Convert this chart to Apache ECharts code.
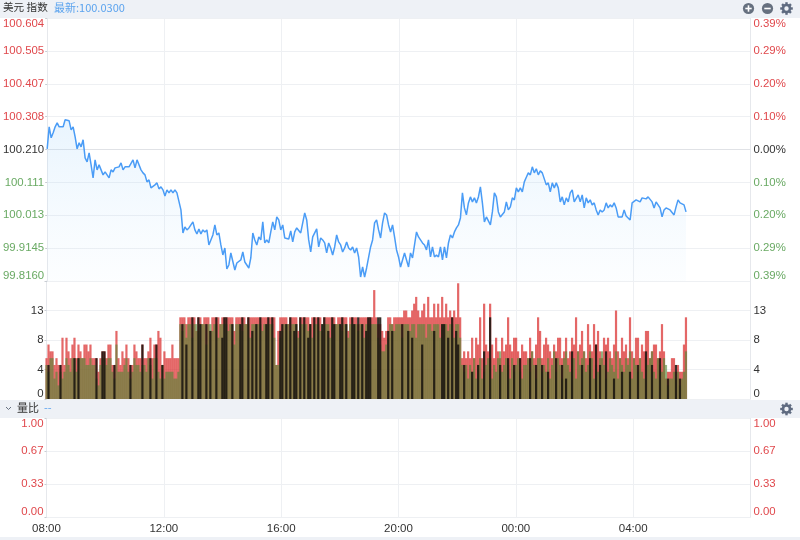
<!DOCTYPE html>
<html><head><meta charset="utf-8">
<style>html,body{margin:0;padding:0;background:#fff}#c{width:800px;height:540px}</style>
<script src="https://cdn.jsdelivr.net/npm/echarts@6/dist/echarts.min.js"></script>
</head><body><div id="c"></div>
<script>
const prevClose = 100.21;
const lastMinute = 1308;
const timeLabels = ['08:00','12:00','16:00','20:00','00:00','04:00',''];
const priceTicks = ['99.8160','99.9145','100.013','100.111','100.210','100.308','100.407','100.505','100.604'];
const pctTicks = ['0.39%','0.29%','0.20%','0.10%','0.00%','0.10%','0.20%','0.29%','0.39%'];
const volTicks = ['0','4','8','13',''];
const ratioTicks = ['0.00','0.33','0.67','1.00'];
const prices = [
100.212,100.278,100.245,100.260,100.278,100.290,100.278,100.278,100.278,100.299,100.299,100.296,100.269,100.278,100.248,100.212,100.230,100.218,100.239,100.185,100.173,100.200,100.164,100.125,100.179,100.149,100.164,100.149,100.134,100.143,100.140,100.125,100.149,100.143,100.155,100.152,100.158,100.170,100.149,100.158,100.158,100.158,100.161,100.179,100.155,100.179,100.179,100.149,100.140,100.134,100.113,100.119,100.095,100.095,100.104,100.110,100.092,100.098,100.089,100.071,100.089,100.080,100.089,100.080,100.089,100.080,100.080,100.029,99.960,99.978,99.969,99.975,99.984,99.993,99.969,99.957,99.972,99.957,99.969,
99.963,99.969,99.924,99.939,99.954,99.984,99.954,99.960,99.924,99.894,99.915,99.852,99.864,99.900,99.903,99.849,99.870,99.873,99.879,99.903,99.873,99.864,99.855,99.885,99.960,99.939,99.924,99.948,99.939,99.993,99.930,99.939,99.930,99.963,99.993,99.969,100.008,99.999,99.969,99.984,99.945,99.948,99.942,99.966,99.933,99.963,99.975,99.978,99.960,99.990,100.020,99.999,99.939,99.903,99.948,99.945,99.972,99.918,99.945,99.939,99.930,99.900,99.930,99.915,99.894,99.918,99.954,99.933,99.924,99.903,99.915,99.933,99.915,99.909,99.918,99.900,99.915,99.888,99.828,
99.858,99.828,99.855,99.858,99.918,99.939,99.990,99.999,99.969,99.945,99.990,100.020,100.014,99.984,99.963,99.984,99.948,99.909,99.888,99.858,99.858,99.900,99.879,99.858,99.900,99.885,99.924,99.963,99.948,99.945,99.930,99.924,99.909,99.939,99.888,99.918,99.888,99.894,99.888,99.918,99.879,99.918,99.885,99.930,99.954,99.945,99.963,99.975,99.984,100.005,100.080,100.035,100.014,100.050,100.068,100.053,100.065,100.050,100.068,100.098,100.050,99.993,100.008,100.005,99.984,100.023,100.080,100.068,100.023,100.008,100.005,100.023,100.053,100.029,100.038,100.065,100.059,100.095,100.083,100.095,100.083,100.113,
100.127,100.140,100.134,100.158,100.140,100.152,100.134,100.146,100.140,100.137,100.104,100.110,100.083,100.110,100.095,100.110,100.095,100.053,100.068,100.044,100.065,100.053,100.080,100.089,100.053,100.053,100.074,100.053,100.074,100.035,100.065,100.050,100.059,100.044,100.050,100.029,100.014,100.029,100.023,100.029,100.050,100.035,100.044,100.038,100.050,100.035,100.008,100.011,100.008,100.029,100.011,100.008,99.999,100.050,100.053,100.059,100.062,100.053,100.065,100.062,100.062,100.068,100.068,100.053,100.035,100.053,100.050,100.035,100.008,100.029,100.035,100.035,100.029,100.029,100.014,100.038,100.059,100.050,100.050,100.044,100.023];
const volRed = [
6,8,7,7,5,6,5,5,9,5,9,7,6,8,9,6,8,7,6,8,8,7,8,6,6,6,4,6,7,7,6,8,8,5,5,10,6,5,7,6,8,6,5,5,8,7,6,6,8,6,6,7,9,6,8,8,10,9,5,7,6,6,6,8,6,6,6,
12,12,12,11,12,12,12,12,10,12,12,11,12,12,12,10,12,12,12,12,11,12,12,12,12,12,12,10,12,12,12,12,12,11,12,12,12,12,12,12,12,12,12,12,12,12,12,12,5,10,12,12,12,12,11,12,12,12,12,10,12,12,12,12,12,11,12,12,12,12,12,10,12,12,12,12,12,12,11,12,12,12,12,12,10,12,12,12,12,11,12,12,12,12,12,12,12,
16,12,11,11,10,9,10,12,12,11,12,12,12,12,12,13,13,12,12,13,14,15,13,12,13,14,12,15,12,12,14,12,14,12,15,12,14,12,13,12,13,12,17,
12,6,7,6,7,6,9,6,9,8,12,6,14,8,7,14,8,6,9,7,6,9,7,8,12,8,7,9,9,7,6,8,7,
7,6,9,7,6,8,12,10,6,8,9,8,7,6,8,7,9,9,6,7,9,6,7,9,8,12,7,8,10,7,6,11,8,7,11,8,10,7,6,9,8,9,7,6,8,13,7,6,9,7,8,6,12,7,6,9,9,6,8,7,10,10,6,7,8,8,6,7,11,7,3,4,4,6,6,4,5,4,4,8,12];
const volGreen = [
5,4,6,6,3,4,2,4,3,4,6,5,4,6,6,4,6,6,6,6,5,5,6,5,5,3,2,5,6,6,5,6,6,4,3,8,4,4,4,5,6,4,3,4,6,5,5,4,5,5,4,6,5,3,6,6,4,3,5,3,4,4,4,4,3,3,4,
11,10,11,9,11,11,9,11,11,10,11,11,11,8,11,11,10,11,11,9,11,11,11,11,10,11,11,8,11,11,11,10,11,11,11,9,11,11,11,11,11,10,11,11,11,11,11,9,5,5,9,10,11,11,11,10,11,11,11,9,11,11,11,11,10,11,9,11,11,11,10,11,11,11,11,9,11,11,11,11,11,10,11,11,9,11,11,11,11,10,11,11,9,11,11,11,11,
11,11,9,8,7,7,8,9,11,11,10,11,11,11,9,11,11,11,10,11,11,9,11,11,11,11,9,11,11,10,11,11,11,9,11,11,11,10,11,11,9,11,11,
9,5,4,5,3,5,4,6,3,5,6,3,4,5,6,6,3,5,4,6,7,4,5,6,5,3,6,4,5,6,4,3,5,
5,6,4,7,5,3,6,6,4,5,4,6,3,5,7,4,6,5,3,6,7,5,4,6,6,3,7,5,6,7,4,5,7,6,3,5,4,6,7,5,3,4,6,5,4,7,3,6,5,4,6,5,7,3,6,5,4,6,4,3,6,5,6,7,4,3,6,5,4,6,5,2,3,3,4,3,4,2,3,4,7];
const volBlack = [
0,5,0,0,0,0,0,5,0,0,0,0,0,0,6,0,6,0,0,0,0,0,0,0,0,6,0,0,7,7,0,0,0,0,5,0,0,0,0,0,0,0,5,0,0,0,0,0,8,0,0,0,6,0,0,8,0,0,5,0,0,0,0,0,0,0,0,
0,11,0,8,0,0,12,0,0,12,11,0,0,11,0,10,0,0,12,0,0,9,12,12,0,0,11,0,0,0,11,12,0,0,12,0,10,0,11,0,12,0,0,11,12,0,12,0,0,0,10,11,0,11,0,12,0,10,11,0,12,0,12,0,9,11,0,12,0,12,0,11,12,0,10,0,12,11,0,0,11,12,0,11,0,0,12,11,0,12,0,11,0,10,12,12,0,
0,0,12,12,0,0,0,10,0,10,0,0,0,0,11,0,0,10,0,9,0,0,0,0,8,0,0,0,0,0,10,0,0,0,11,11,0,9,0,12,0,10,8,
0,0,5,0,0,0,4,0,0,5,0,0,7,0,0,12,0,0,0,0,5,0,0,0,6,0,0,5,0,0,6,0,0,
0,0,6,0,0,5,0,0,5,0,0,4,0,0,0,6,0,0,5,0,3,0,0,7,0,0,0,0,5,0,0,0,6,0,0,8,0,5,0,0,7,0,0,0,3,0,0,0,4,0,0,0,4,0,0,0,5,0,0,0,7,0,0,5,0,0,0,6,0,0,0,3,0,0,0,5,0,3,0,0,0];

const RED='#e0484c', GREEN='#6aaa64', DARK='#333333';
const step = lastMinute / (prices.length - 1);
const pts = (arr, f) => arr.map((v, i) => [i * step, f ? f(v) : v]);
const priceStep = 0.0985, volStep = 13 / 3, ratioStep = 1 / 3;
const idx = (v, s) => Math.round(v / s);

const xBase = (gridIndex, showLabel) => ({
  type:'value', gridIndex, min:0, max:1440, interval:240,
  axisLine:{show:showLabel, lineStyle:{color:'#eef0f3'}},
  axisTick:{show:false},
  splitLine:{show:true, lineStyle:{color:'#eef0f3', width:1}},
  axisLabel:{show:showLabel, color:'#333', fontSize:11.5, fontFamily:'Liberation Sans', margin:6,
    formatter:v => timeLabels[idx(v,240)]}
});
const yBase = (gridIndex, position, min, max, interval, formatter, color, showSplit) => ({
  type:'value', gridIndex, position, min, max, interval,
  axisLine:{show:true, onZero:false, lineStyle:{color:'#e6e8ec'}},
  axisTick:{show:position==='left', length:2, lineStyle:{color:'#c8ccd2'}},
  splitLine:{show:showSplit, lineStyle:{color:'#eef0f3', width:1}},
  axisLabel:{formatter, color, fontSize:11.4, fontFamily:'Liberation Sans', margin:3, inside:false,
    verticalAlignMinLabel:'bottom', verticalAlignMaxLabel:'top',
    align: position==='left' ? 'right' : 'left'}
});
const priceColor = v => { const i = idx(v, priceStep); return i>0?RED:i<0?GREEN:DARK; };

const HDR='#eef1f6', ICON='#66707f', CJK='"Noto Sans CJK SC"';
const gear = (cx, cy) => {
  const els = [{type:'ring', z:20, shape:{cx, cy, r:4.8, r0:2.2}, style:{fill:'#5f6b80'}}];
  for (let i = 0; i < 8; i++) {
    els.push({type:'rect', z:20, x:cx, y:cy, rotation:i*Math.PI/4,
      shape:{x:-1.2, y:-6.3, width:2.4, height:2.4}, style:{fill:'#5f6b80'}});
  }
  return els;
};
const roundBtn = (cx, cy, plus) => {
  const els = [{type:'circle', z:20, shape:{cx, cy, r:5.6}, style:{fill:ICON}},
    {type:'rect', z:21, shape:{x:cx-3.2, y:cy-0.8, width:6.4, height:1.6}, style:{fill:'#fff'}}];
  if (plus) els.push({type:'rect', z:21, shape:{x:cx-0.8, y:cy-3.2, width:1.6, height:6.4}, style:{fill:'#fff'}});
  return els;
};
const graphic = [
  {type:'rect', z:10, shape:{x:0,y:0,width:800,height:18}, style:{fill:HDR}},
  {type:'rect', z:10, shape:{x:0,y:400,width:800,height:18}, style:{fill:HDR}},
  {type:'rect', z:10, shape:{x:0,y:537,width:800,height:3}, style:{fill:HDR}},
  {type:'text', z:20, x:3, y:2, style:{text:'美元 指数', fill:'#333', font:'10.6px '+CJK}},
  {type:'text', z:20, x:54, y:2, style:{text:'最新:100.0300', fill:'#5ba3ee', font:'11px '+CJK}},
  {type:'polyline', z:20, shape:{points:[[6,407],[8.5,409.5],[11,407]]}, style:{stroke:'#66707f', lineWidth:1, fill:'none'}},
  {type:'text', z:20, x:17, y:402, style:{text:'量比', fill:'#333', font:'11px '+CJK}},
  {type:'text', z:20, x:44, y:402, style:{text:'--', fill:'#5ba3ee', font:'11px '+CJK}},
  ...roundBtn(748.5, 8.5, true), ...roundBtn(767.5, 8.5, false), ...gear(786.5, 8.5), ...gear(786.5, 409)
];
const barSeries = (name, data, color, z, barWidth) => ({
  name, type:'bar', xAxisIndex:1, yAxisIndex:2, data, barWidth, barGap:'-100%', z,
  itemStyle:{color}, silent:true, animation:false
});
const grids = [
  {left:46.5, right:49.5, top:18, height:263},
  {left:46.5, right:49.5, top:281, height:118},
  {left:46.5, right:49.5, top:418, height:99}
];
const option = {
  animation:false, backgroundColor:'#fff', graphic, grid:grids,
  xAxis:[xBase(0,false), xBase(1,false), xBase(2,true)],
  yAxis:[
    yBase(0,'left',-4*priceStep,4*priceStep,priceStep,v=>priceTicks[idx(v,priceStep)+4],priceColor,true),
    yBase(0,'right',-4*priceStep,4*priceStep,priceStep,v=>pctTicks[idx(v,priceStep)+4],priceColor,false),
    yBase(1,'left',0,4*volStep,volStep,v=>volTicks[idx(v,volStep)],DARK,true),
    yBase(1,'right',0,4*volStep,volStep,v=>volTicks[idx(v,volStep)],DARK,false),
    yBase(2,'left',0,1,ratioStep,v=>ratioTicks[idx(v,ratioStep)],v=>v===0?DARK:RED,true),
    yBase(2,'right',0,1,ratioStep,v=>ratioTicks[idx(v,ratioStep)],v=>v===0?DARK:RED,false)
  ],
  series:[
    {name:'价格', type:'line', xAxisIndex:0, yAxisIndex:0, showSymbol:false, symbol:'none', z:5,
     data:pts(prices, v => +(v - prevClose).toFixed(3)),
     lineStyle:{color:'#4a9cf6', width:1.5},
     areaStyle:{origin:'start', color:{type:'linear',x:0,y:0,x2:0,y2:1,colorStops:[
       {offset:0,color:'rgba(150,205,250,0.30)'},{offset:1,color:'rgba(190,225,252,0.07)'}]}},
     markLine:{silent:true, symbol:'none', label:{show:false}, lineStyle:{color:'#e0e2e6', width:1, type:'solid'}, data:[{yAxis:0}]}},
    barSeries('涨', pts(volRed), 'rgba(218,45,45,0.72)', 3, 2.2),
    barSeries('跌', pts(volGreen), 'rgba(82,135,55,0.62)', 4, 2.2),
    barSeries('平', pts(volBlack), 'rgba(25,20,15,0.88)', 5, 2.2),
    {name:'量比', type:'line', xAxisIndex:2, yAxisIndex:4, data:[], showSymbol:false}
  ]
};
echarts.init(document.getElementById('c'), null, {renderer:'canvas'}).setOption(option);
</script></body></html>
